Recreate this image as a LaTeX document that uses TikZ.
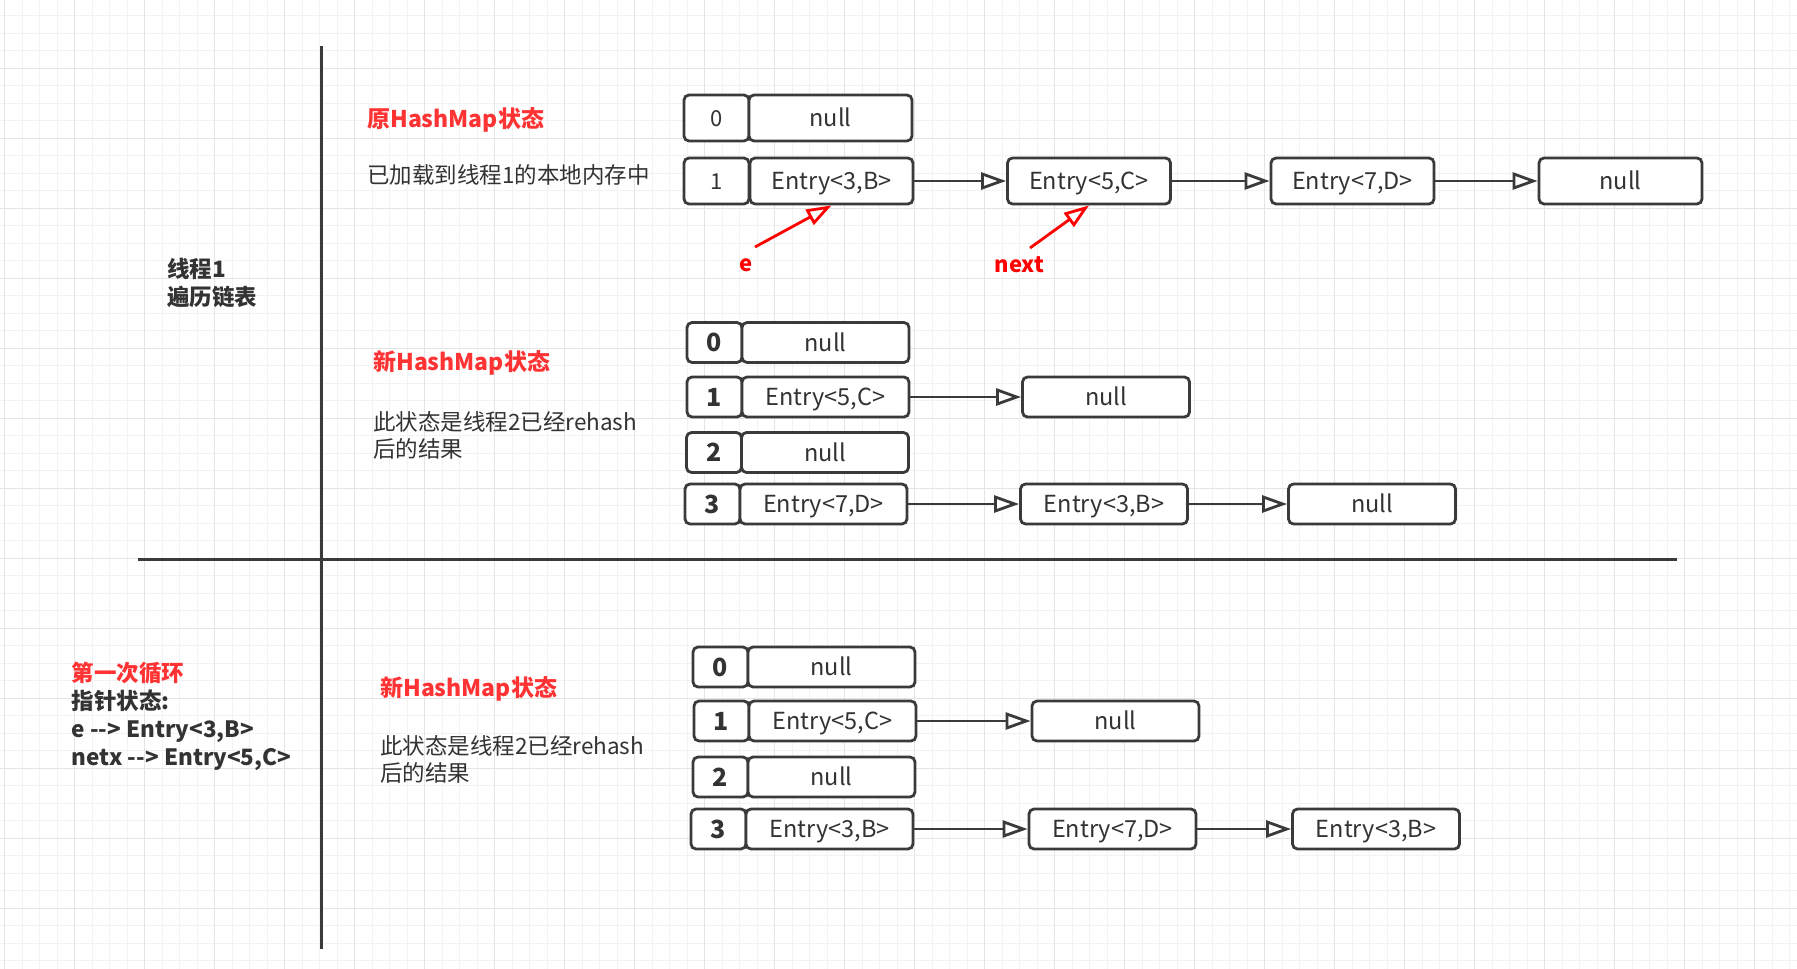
\documentclass[tikz,border=0pt]{standalone}
\usepackage{fontspec}
\setmainfont{Noto Sans CJK SC}
\usetikzlibrary{arrows.meta}
\definecolor{ink}{HTML}{333333}
\definecolor{edge}{HTML}{3A3A3A}
\definecolor{hred}{HTML}{FF3333}
\definecolor{pred}{HTML}{FF0000}
\definecolor{gmin}{HTML}{F2F2F2}
\definecolor{gmaj}{HTML}{E4E4E4}
\begin{document}
\begin{tikzpicture}[x=1pt,y=-1pt,
  cell/.style={draw=edge, line width=2.8pt, rounded corners=5pt, fill=white, inner sep=0pt, text=ink, text height=17pt, text depth=0pt, font=\fontsize{23.5}{26}\selectfont},
  sa/.style={cell, minimum height=46pt},
  sb/.style={cell, minimum height=40pt},
  ia/.style={sa, minimum width=65pt, text height=16pt, font=\fontsize{22}{26}\selectfont},
  ib/.style={sb, minimum width=55pt, text height=18pt, font=\bfseries\fontsize{25}{28}\selectfont},
  va/.style={sa, minimum width=163pt},
  vb/.style={sb, minimum width=167pt},
  link/.style={draw=edge, line width=2.8pt, -{Triangle[length=25pt,width=17pt,fill=white]}},
  ptr/.style={draw=pred, line width=2.8pt, -{Triangle[length=25pt,width=17pt,fill=white]}},
  txt/.style={anchor=west, inner sep=0pt, text=ink, align=left, font=\fontsize{22.5}{27}\selectfont},
  title/.style={anchor=west, inner sep=0pt, text=hred, font=\bfseries\fontsize{23}{27}\selectfont},
  btxt/.style={anchor=west, inner sep=0pt, text=ink, align=left, font=\bfseries\fontsize{22.5}{28}\selectfont},
  plbl/.style={inner sep=0pt, text=pred, font=\bfseries\fontsize{22}{26}\selectfont},
  axis/.style={draw=edge, line width=3pt}
]
\useasboundingbox (0,0) rectangle (1797,969);
\fill[white] (0,0) rectangle (1797,969);
% grid
\foreach \i in {0,...,102} {\draw[gmin, line width=1.2pt] ({4.7+17.5*\i},0) -- ({4.7+17.5*\i},969);}
\foreach \j in {0,...,55} {\draw[gmin, line width=1.2pt] (0,{15.8+17.5*\j}) -- (1797,{15.8+17.5*\j});}
\foreach \i in {0,...,25} {\draw[gmaj, line width=1.2pt] ({4.7+70*\i},0) -- ({4.7+70*\i},969);}
\foreach \j in {0,...,13} {\draw[gmaj, line width=1.2pt] (0,{68.3+70*\j}) -- (1797,{68.3+70*\j});}

% axes
\draw[axis] (321,46) -- (321,949);
\draw[axis] (138,559) -- (1677,559);

% section 1
\node[title] (ta) at (367,120) {原HashMap状态};
\node[txt] (tab) at (367,175) {已加载到线程1的本地内存中};
\node[btxt] (thr) at (167,282.5) {线程1\\遍历链表};

\node[ia] (a0i) at (716.5,118) {0};
\node[va] (a0v) at (830.5,118) {null};
\node[ia] (a1i) at (716.5,181) {1};
\node[va] (a1v) at (831.5,181) {Entry<3,B>};
\node[va] (a1b) at (1089,181) {Entry<5,C>};
\node[va] (a1c) at (1352.5,181) {Entry<7,D>};
\node[va] (a1d) at (1620.5,181) {null};
\draw[link] (a1v.east) -- (a1b.west);
\draw[link] (a1b.east) -- (a1c.west);
\draw[link] (a1c.east) -- (a1d.west);

\node[plbl] (el) at (746,265) {e};
\node[plbl] (nl) at (1019.5,265) {next};
\coordinate (ep) at (755,247);
\coordinate (np) at (1030,248);
\draw[ptr] (ep) -- (a1v.south);
\draw[ptr] (np) -- (a1b.south);

% section 2
\node[title] (tb) at (373,363) {新HashMap状态};
\node[txt] (tbb) at (373,435) {此状态是线程2已经rehash\\后的结果};

\node[ib] (b0i) at (714.5,342.5) {0};
\node[vb] (b0v) at (825.5,342.5) {null};
\node[ib] (b1i) at (714.5,397) {1};
\node[vb] (b1v) at (825.5,397) {Entry<5,C>};
\node[vb] (b1n) at (1106,397) {null};
\node[ib] (b2i) at (714,452.5) {2};
\node[vb] (b2v) at (825,452.5) {null};
\node[ib] (b3i) at (712.5,504) {3};
\node[vb] (b3v) at (823.5,504) {Entry<7,D>};
\node[vb] (b3b) at (1104,504) {Entry<3,B>};
\node[vb] (b3n) at (1372,504) {null};
\draw[link] (b1v.east) -- (b1n.west);
\draw[link] (b3v.east) -- (b3b.west);
\draw[link] (b3b.east) -- (b3n.west);

% section 3
\node[btxt] (loop) at (71.5,716.5) {\textcolor{hred}{第一次循环}\\指针状态:\\e \mbox{-}\mbox{-}> Entry<3,B>\\netx \mbox{-}\mbox{-}> Entry<5,C>};
\node[title] (tc) at (380,689) {新HashMap状态};
\node[txt] (tcb) at (380,759) {此状态是线程2已经rehash\\后的结果};

\node[ib] (c0i) at (720.5,667) {0};
\node[vb] (c0v) at (831.5,667) {null};
\node[ib] (c1i) at (721.5,721) {1};
\node[vb] (c1v) at (832.5,721) {Entry<5,C>};
\node[vb] (c1n) at (1115.5,721) {null};
\node[ib] (c2i) at (720.5,777) {2};
\node[vb] (c2v) at (831.5,777) {null};
\node[ib] (c3i) at (718.5,829) {3};
\node[vb] (c3v) at (829.5,829) {Entry<3,B>};
\node[vb] (c3b) at (1112.5,829) {Entry<7,D>};
\node[vb] (c3c) at (1376,829) {Entry<3,B>};
\draw[link] (c1v.east) -- (c1n.west);
\draw[link] (c3v.east) -- (c3b.west);
\draw[link] (c3b.east) -- (c3c.west);
\end{tikzpicture}
\end{document}
